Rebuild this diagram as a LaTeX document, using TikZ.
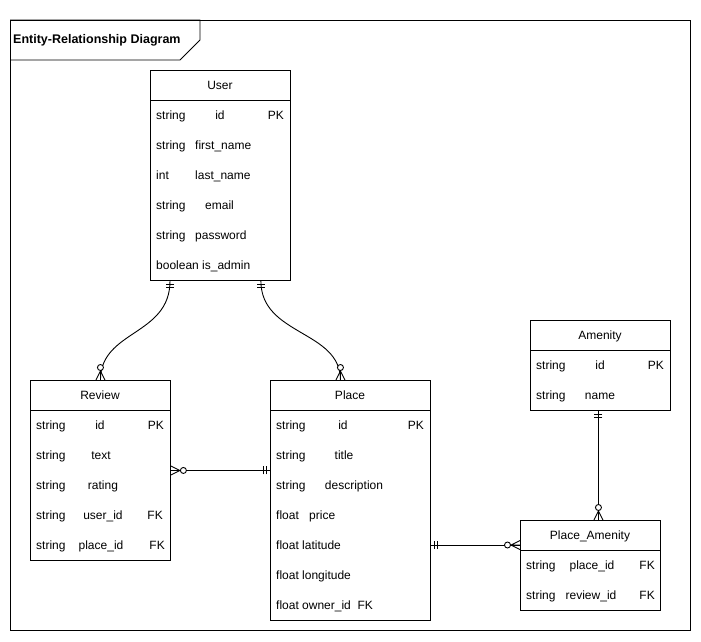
\documentclass[tikz,border=0pt]{standalone}
\usepackage{fontspec}
\setmainfont{Liberation Sans}
\begin{document}
\begin{tikzpicture}[x=1pt,y=-1pt,
  ln/.style={line width=0.9pt, draw=black},
  entbox/.style={ln, draw, inner sep=0pt, anchor=north west, fill=white},
  txt/.style={inner sep=0pt, text height=9pt, text depth=0.6pt, font=\fontsize{12pt}{14pt}\selectfont},
  ttl/.style={inner sep=0pt, anchor=west, text height=9pt, text depth=0.6pt, font=\fontsize{12.5pt}{15pt}\selectfont\bfseries},
  mandone/.pic={\draw[ln] (4,-4)--(4,4) (7,-4)--(7,4);},
  zeromany/.pic={\draw[ln] (0,-4.5)--(9,0)--(0,4.5) (0,0)--(9,0);
                 \draw[ln,fill=white] (12.5,0) circle[radius=3pt];}
]
\useasboundingbox (0,0) rectangle (701,641);
% frame
\draw[ln] (10,20) rectangle (690,630);
\draw[ln] (10,20) -- (200,20) -- (200,40) -- (180,60) -- (10,60);
\node[ttl] (title) at (13,39) {Entity-Relationship Diagram};

% User
\node[entbox, minimum width=140pt, minimum height=210pt] (user) at (150,70) {};
\draw[ln] ([yshift=-30pt]user.north west) -- ([yshift=-30pt]user.north east);
\node[txt] (user-h) at (220,85) {User};
\node[txt,anchor=west] (user-1a) at (156,115) {string};
\node[txt] (user-1b) at (220,115) {id};
\node[txt,anchor=east] (user-1c) at (284,115) {PK};
\node[txt,anchor=west] (user-2a) at (156,145) {string};
\node[txt,anchor=west] (user-2b) at (195,145) {first\_name};
\node[txt,anchor=west] (user-3a) at (156,175) {int};
\node[txt,anchor=west] (user-3b) at (195,175) {last\_name};
\node[txt,anchor=west] (user-4a) at (156,205) {string};
\node[txt] (user-4b) at (219.5,205) {email};
\node[txt,anchor=west] (user-5a) at (156,235) {string};
\node[txt,anchor=west] (user-5b) at (195,235) {password};
\node[txt,anchor=west] (user-6a) at (156,265) {boolean is\_admin};

% Review
\node[entbox, minimum width=140pt, minimum height=180pt] (review) at (30,380) {};
\draw[ln] ([yshift=-30pt]review.north west) -- ([yshift=-30pt]review.north east);
\node[txt] (rev-h) at (100,395) {Review};
\node[txt,anchor=west] (rev-1a) at (36,425) {string};
\node[txt] (rev-1b) at (100,425) {id};
\node[txt,anchor=east] (rev-1c) at (164,425) {PK};
\node[txt,anchor=west] (rev-2a) at (36,455) {string};
\node[txt] (rev-2b) at (101,455) {text};
\node[txt,anchor=west] (rev-3a) at (36,485) {string};
\node[txt] (rev-3b) at (103,485) {rating};
\node[txt,anchor=west] (rev-4a) at (36,515) {string};
\node[txt] (rev-4b) at (103,515) {user\_id};
\node[txt,anchor=east] (rev-4c) at (163,515) {FK};
\node[txt,anchor=west] (rev-5a) at (36,545) {string};
\node[txt] (rev-5b) at (101,545) {place\_id};
\node[txt,anchor=east] (rev-5c) at (165,545) {FK};

% Place
\node[entbox, minimum width=160pt, minimum height=240pt] (place) at (270,380) {};
\draw[ln] ([yshift=-30pt]place.north west) -- ([yshift=-30pt]place.north east);
\node[txt] (pl-h) at (350,395) {Place};
\node[txt,anchor=west] (pl-1a) at (276,425) {string};
\node[txt] (pl-1b) at (343,425) {id};
\node[txt,anchor=east] (pl-1c) at (424,425) {PK};
\node[txt,anchor=west] (pl-2a) at (276,455) {string};
\node[txt] (pl-2b) at (344,455) {title};
\node[txt,anchor=west] (pl-3a) at (276,485) {string};
\node[txt] (pl-3b) at (354,485) {description};
\node[txt,anchor=west] (pl-4a) at (276,515) {float};
\node[txt,anchor=west] (pl-4b) at (309,515) {price};
\node[txt,anchor=west] (pl-5a) at (276,545) {float latitude};
\node[txt,anchor=west] (pl-6a) at (276,575) {float longitude};
\node[txt,anchor=west] (pl-7a) at (276,605) {float owner\_id\ \ FK};

% Amenity
\node[entbox, minimum width=140pt, minimum height=90pt] (amen) at (530,320) {};
\draw[ln] ([yshift=-30pt]amen.north west) -- ([yshift=-30pt]amen.north east);
\node[txt] (am-h) at (600,335) {Amenity};
\node[txt,anchor=west] (am-1a) at (536,365) {string};
\node[txt] (am-1b) at (600,365) {id};
\node[txt,anchor=east] (am-1c) at (664,365) {PK};
\node[txt,anchor=west] (am-2a) at (536,395) {string};
\node[txt] (am-2b) at (600,395) {name};

% Place_Amenity
\node[entbox, minimum width=140pt, minimum height=90pt] (pa) at (520,520) {};
\draw[ln] ([yshift=-30pt]pa.north west) -- ([yshift=-30pt]pa.north east);
\node[txt] (pa-h) at (590,535) {Place\_Amenity};
\node[txt,anchor=west] (pa-1a) at (526,565) {string};
\node[txt] (pa-1b) at (592,565) {place\_id};
\node[txt,anchor=east] (pa-1c) at (655,565) {FK};
\node[txt,anchor=west] (pa-2a) at (526,595) {string};
\node[txt] (pa-2b) at (591,595) {review\_id};
\node[txt,anchor=east] (pa-2c) at (655,595) {FK};

% connection points
\coordinate (u1) at ([xshift=20pt]user.south west);
\coordinate (u2) at ([xshift=-30pt]user.south east);
\coordinate (r1) at (review.north);
\coordinate (pl1) at ([xshift=-10pt]place.north);
\coordinate (r2) at (review.east);
\coordinate (pl2) at (r2 -| place.west);
\coordinate (pl3) at ([yshift=-165pt]place.north east);
\coordinate (pa1) at (pl3 -| pa.west);
\coordinate (a1) at ([xshift=-2pt]amen.south);
\coordinate (pa2) at (a1 |- pa.north);

% connectors
\draw[ln] (u1) .. controls +(0,55) and +(0,-50) .. (r1);
\draw[ln] (u2) .. controls +(0,55) and +(0,-50) .. (pl1);
\draw[ln] (r2) -- (pl2);
\draw[ln] (pl3) -- (pa1);
\draw[ln] (a1) -- (pa2);

% markers
\path (u1) pic[rotate=-90]{mandone};
\path (u2) pic[rotate=-90]{mandone};
\path (r1) pic[rotate=90]{zeromany};
\path (pl1) pic[rotate=90]{zeromany};
\path (r2) pic[rotate=0]{zeromany};
\path (pl2) pic[rotate=180]{mandone};
\path (pl3) pic[rotate=0]{mandone};
\path (pa1) pic[rotate=180]{zeromany};
\path (a1) pic[rotate=-90]{mandone};
\path (pa2) pic[rotate=90]{zeromany};
\end{tikzpicture}
\end{document}
